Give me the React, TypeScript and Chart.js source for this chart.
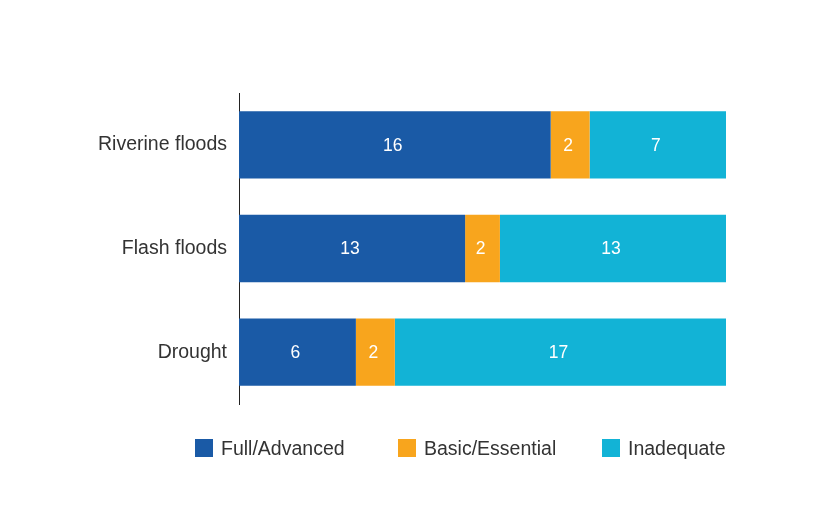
import React, { useEffect, useRef } from "react";
import { Chart, registerables } from "chart.js";

Chart.register(...registerables);

const categories = ["Riverine floods", "Flash floods", "Drought"];
const seriesNames = ["Full/Advanced", "Basic/Essential", "Inadequate"];
const fullAdvanced = [16, 13, 6];
const basicEssential = [2, 2, 2];
const inadequate = [7, 13, 17];
const seriesColors = ["#1A5AA6", "#F8A51D", "#12B3D6"];

const FONT = "'Liberation Sans', Arial, sans-serif";

const seriesCounts = [fullAdvanced, basicEssential, inadequate];
const totals = categories.map((_, i) => seriesCounts.reduce((s, arr) => s + arr[i], 0));

const countLabels = {
  id: "countLabels",
  afterDatasetsDraw(chart: any) {
    const ctx = chart.ctx;
    ctx.save();
    ctx.fillStyle = "#ffffff";
    ctx.font = `17.5px ${FONT}`;
    ctx.textAlign = "center";
    ctx.textBaseline = "middle";
    chart.data.datasets.forEach((ds: any, di: number) => {
      const meta = chart.getDatasetMeta(di);
      meta.data.forEach((bar: any, i: number) => {
        const p = bar.getProps(["x", "y", "base"], true);
        ctx.fillText(String(ds.counts[i]), (p.x + p.base) / 2 - 2, p.y + 1);
      });
    });
    ctx.restore();
  },
};

const frame = {
  id: "frame",
  afterDraw(chart: any) {
    const ctx = chart.ctx;
    ctx.save();
    ctx.fillStyle = "#c4c4c4";
    ctx.fillRect(6, 6, 2, chart.height - 6);
    ctx.fillRect(6, 6, chart.width - 6, 2);
    ctx.restore();
  },
};

export default function App() {
  const ref = useRef<HTMLCanvasElement | null>(null);

  useEffect(() => {
    if (!ref.current) return;
    const chart = new Chart(ref.current, {
      type: "bar",
      data: {
        labels: categories,
        datasets: seriesNames.map((name, si) => ({
          label: name,
          data: seriesCounts[si].map((v, i) => (v / totals[i]) * 100),
          counts: seriesCounts[si],
          backgroundColor: seriesColors[si],
          borderWidth: 0,
          categoryPercentage: 1,
          barPercentage: 0.65,
        })) as any,
      },
      options: {
        indexAxis: "y",
        animation: false,
        responsive: false,
        maintainAspectRatio: false,
        layout: { padding: { left: 0, right: 88, top: 93, bottom: 115 } },
        plugins: {
          legend: { display: false },
          tooltip: { enabled: false },
        },
        scales: {
          x: {
            stacked: true,
            display: false,
            min: 0,
            max: 100,
          },
          y: {
            stacked: true,
            grid: { display: false, drawTicks: false },
            border: { display: true, color: "#222", width: 1 },
            ticks: {
              color: "#333",
              padding: 12,
              font: { family: FONT, size: 19.5 },
            },
            afterFit(scale: any) {
              scale.width = 239;
            },
          },
        },
      },
      plugins: [frame, countLabels],
    });
    return () => chart.destroy();
  }, []);

  const legendLefts = [187, 390, 594];

  return (
    <div style={{ position: "relative", width: 806, height: 511 }}>
      <canvas
        ref={ref}
        width={814}
        height={519}
        style={{ position: "absolute", left: -8, top: -8, width: 814, height: 519 }}
      />
      {seriesNames.map((name, i) => (
        <div
          key={name}
          style={{
            position: "absolute",
            left: legendLefts[i],
            top: 431,
            height: 18,
            display: "flex",
            alignItems: "center",
            fontFamily: FONT,
            fontSize: 19.5,
            color: "#333",
            whiteSpace: "nowrap",
          }}
        >
          <span
            style={{
              display: "inline-block",
              width: 18,
              height: 18,
              background: seriesColors[i],
              marginRight: 8,
            }}
          />
          <span style={{ lineHeight: "18px" }}>{name}</span>
        </div>
      ))}
    </div>
  );
}
